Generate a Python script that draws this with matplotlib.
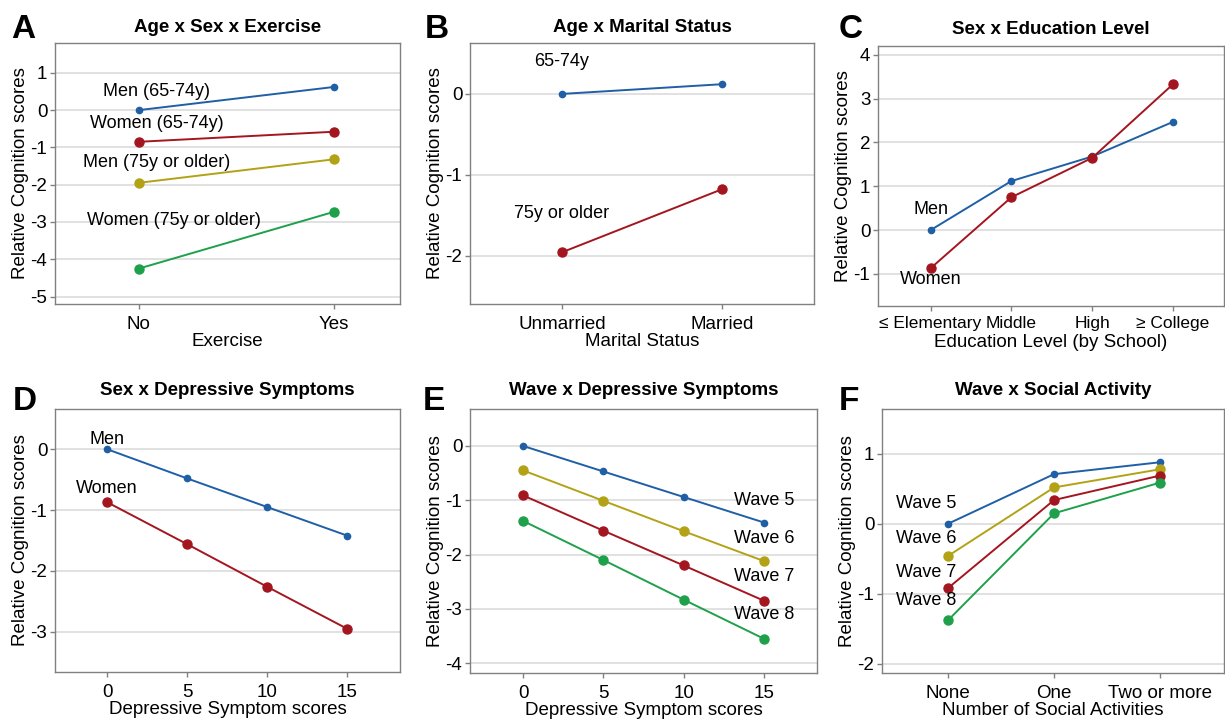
import matplotlib
matplotlib.use('Agg')
from matplotlib import pyplot as plt

plt.rcParams['font.family'] = ['Liberation Sans', 'DejaVu Sans']
plt.rcParams['axes.unicode_minus'] = False

blue = '#1f5fa6'
red = '#a4161f'
olive = '#b3a216'
green = '#1fa04a'

# A: Age x Sex x Exercise
exercise = ['No', 'Yes']
men_young_ex = [0.0, 0.62]
women_young_ex = [-0.85, -0.58]
men_old_ex = [-1.95, -1.32]
women_old_ex = [-4.25, -2.73]

# B: Age x Marital status
marital = ['Unmarried', 'Married']
young_mar = [0.0, 0.12]
old_mar = [-1.96, -1.18]

# C: Sex x Education
education = ['≤ Elementary', 'Middle', 'High', '≥ College']
men_edu = [0.0, 1.12, 1.68, 2.47]
women_edu = [-0.87, 0.75, 1.65, 3.33]

# D: Sex x Depressive symptoms
dep_scores = [0, 5, 10, 15]
men_dep = [0.0, -0.48, -0.95, -1.42]
women_dep = [-0.87, -1.56, -2.26, -2.95]

# E: Wave x Depressive symptoms
wave5_dep = [0.0, -0.47, -0.94, -1.41]
wave6_dep = [-0.45, -1.01, -1.57, -2.12]
wave7_dep = [-0.91, -1.56, -2.20, -2.85]
wave8_dep = [-1.38, -2.10, -2.83, -3.55]

# F: Wave x Social activity
social = ['None', 'One', 'Two or more']
wave5_soc = [0.0, 0.71, 0.88]
wave6_soc = [-0.46, 0.52, 0.78]
wave7_soc = [-0.92, 0.34, 0.69]
wave8_soc = [-1.38, 0.15, 0.59]

fig = plt.figure(figsize=(12.25, 7.2), dpi=100)
W, H = 1225.0, 720.0


def make_ax(x0, x1, y0, y1):
    # pixel box -> figure fraction
    ax = fig.add_axes([x0 / W, 1 - y1 / H, (x1 - x0) / W, (y1 - y0) / H])
    for s in ax.spines.values():
        s.set_color('#808080')
        s.set_linewidth(1.0)
    ax.tick_params(labelsize=13.5, length=3.5, color='#808080', width=1, pad=2)
    ax.tick_params(axis='x', pad=5)
    ax.yaxis.grid(True, color='#d9d9d9', linewidth=1.1)
    ax.set_axisbelow(True)
    ax.set_ylabel('Relative Cognition scores', fontsize=13.5, labelpad=1)
    return ax


def line(ax, x, y, c, small=False):
    ms = 4.5 if small else 6.5
    ax.plot(x, y, color=c, lw=1.4, marker='o', ms=ms, mec=c, mfc=c, zorder=3)


def head(ax, title, letter, lx, ly, ty):
    ax.set_title(title, fontsize=13.5, fontweight='bold', pad=ty)
    fig.text(lx / W, 1 - ly / H, letter, fontsize=24, fontweight='bold',
             ha='center', va='center')


# A
ax = make_ax(55, 400, 43, 304)
xa = range(len(exercise))
line(ax, xa, men_young_ex, blue, small=True)
line(ax, xa, women_young_ex, red)
line(ax, xa, men_old_ex, olive)
line(ax, xa, women_old_ex, green)
ax.set_xlim(-0.43, 1.34)
ax.set_ylim(-5.2, 1.8)
ax.set_yticks(range(-5, 2))
ax.set_xticks(list(xa))
ax.set_xticklabels(exercise)
ax.set_xlabel('Exercise', fontsize=13.5, labelpad=0)
ax.text(0.09, 0.5, 'Men (65-74y)', fontsize=13, ha='center', va='center')
ax.text(0.09, -0.37, 'Women (65-74y)', fontsize=13, ha='center', va='center')
ax.text(0.09, -1.4, 'Men (75y or older)', fontsize=13, ha='center', va='center')
ax.text(0.18, -2.95, 'Women (75y or older)', fontsize=13, ha='center', va='center')
head(ax, 'Age x Sex x Exercise', 'A', 23, 30, 8)

# B
ax = make_ax(470, 814, 43, 304)
xb = range(len(marital))
line(ax, xb, young_mar, blue, small=True)
line(ax, xb, old_mar, red)
ax.set_xlim(-0.575, 1.575)
ax.set_ylim(-2.6, 0.63)
ax.set_yticks([-2, -1, 0])
ax.set_xticks(list(xb))
ax.set_xticklabels(marital)
ax.set_xlabel('Marital Status', fontsize=13.5, labelpad=0)
ax.text(0, 0.4, '65-74y', fontsize=13, ha='center', va='center')
ax.text(0, -1.48, '75y or older', fontsize=13, ha='center', va='center')
head(ax, 'Age x Marital Status', 'B', 437, 30, 8)

# C
ax = make_ax(878, 1224, 46, 306)
xc = range(len(education))
line(ax, xc, men_edu, blue, small=True)
line(ax, xc, women_edu, red)
ax.set_xlim(-0.65, 3.63)
ax.set_ylim(-1.73, 4.2)
ax.set_yticks(range(-1, 5))
ax.set_xticks(list(xc))
ax.set_xticklabels(education, fontsize=12.5)
ax.tick_params(axis='x', pad=3.5)
ax.set_xlabel('Education Level (by School)', fontsize=13.5, labelpad=2)
ax.text(0, 0.46, 'Men', fontsize=13, ha='center', va='center')
ax.text(0, -1.12, 'Women', fontsize=13, ha='center', va='center')
head(ax, 'Sex x Education Level', 'C', 851, 30, 9)

# D
ax = make_ax(55, 400, 409, 672)
line(ax, dep_scores, men_dep, blue, small=True)
line(ax, dep_scores, women_dep, red)
ax.set_xlim(-3.25, 18.3)
ax.set_ylim(-3.66, 0.66)
ax.set_yticks([-3, -2, -1, 0])
ax.set_xticks(dep_scores)
ax.set_xlabel('Depressive Symptom scores', fontsize=13.5, labelpad=0)
ax.text(0, 0.16, 'Men', fontsize=13, ha='center', va='center')
ax.text(0, -0.64, 'Women', fontsize=13, ha='center', va='center')
head(ax, 'Sex x Depressive Symptoms', 'D', 25, 402, 10)

# E
ax = make_ax(470, 817, 409, 673)
line(ax, dep_scores, wave5_dep, blue, small=True)
line(ax, dep_scores, wave6_dep, olive)
line(ax, dep_scores, wave7_dep, red)
line(ax, dep_scores, wave8_dep, green)
ax.set_xlim(-3.3, 18.3)
ax.set_ylim(-4.18, 0.68)
ax.set_yticks(range(-4, 1))
ax.set_xticks(dep_scores)
ax.set_xlabel('Depressive Symptom scores', fontsize=13.5, labelpad=0)
ax.text(15, -1.01, 'Wave 5', fontsize=13, ha='center', va='center')
ax.text(15, -1.71, 'Wave 6', fontsize=13, ha='center', va='center')
ax.text(15, -2.41, 'Wave 7', fontsize=13, ha='center', va='center')
ax.text(15, -3.11, 'Wave 8', fontsize=13, ha='center', va='center')
head(ax, 'Wave x Depressive Symptoms', 'E', 434, 402, 10)

# F
ax = make_ax(882, 1224, 409, 673)
xf = range(len(social))
line(ax, xf, wave5_soc, blue, small=True)
line(ax, xf, wave6_soc, olive)
line(ax, xf, wave7_soc, red)
line(ax, xf, wave8_soc, green)
ax.set_xlim(-0.62, 2.6)
ax.set_ylim(-2.13, 1.64)
ax.set_yticks([-2, -1, 0, 1])
ax.set_xticks(list(xf))
ax.set_xticklabels(social)
ax.set_xlabel('Number of Social Activities', fontsize=13.5, labelpad=0)
ax.text(-0.2, 0.29, 'Wave 5', fontsize=13, ha='center', va='center')
ax.text(-0.2, -0.21, 'Wave 6', fontsize=13, ha='center', va='center')
ax.text(-0.2, -0.7, 'Wave 7', fontsize=13, ha='center', va='center')
ax.text(-0.2, -1.1, 'Wave 8', fontsize=13, ha='center', va='center')
head(ax, 'Wave x Social Activity', 'F', 849, 401, 10)

fig.savefig('out.png', dpi=100)
